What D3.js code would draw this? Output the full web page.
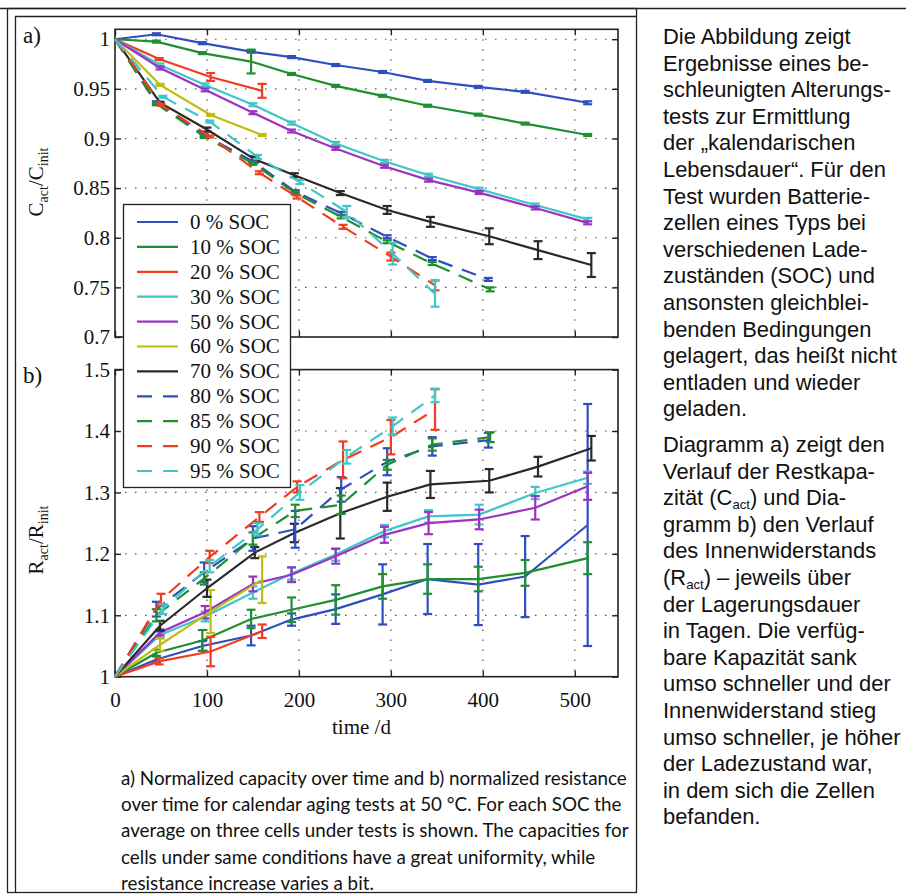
<!DOCTYPE html>
<html>
<head>
<meta charset="utf-8">
<script src="https://cdnjs.cloudflare.com/ajax/libs/d3/7.8.5/d3.min.js"></script>
<style>
	body { margin: 0; background: #fff; }
	svg text { fill: #111; }
</style>
</head>
<body>
<div id="chart"></div>
<script>

// series: state of charge
var socLabels = ['0 % SOC', '10 % SOC', '20 % SOC', '30 % SOC', '50 % SOC', '60 % SOC', '70 % SOC', '80 % SOC', '85 % SOC', '90 % SOC', '95 % SOC'];
var socColors = ['#2f4fbf', '#1f8f2f', '#f23c1f', '#3fc6c9', '#9b33c4', '#bdbd12', '#2a2a2a', '#2f4fbf', '#1f8f2f', '#f23c1f', '#3fc6c9'];
var socDashed = [false, false, false, false, false, false, false, true, true, true, true];

// storage time in days, per series
var days = [
	[0, 45, 95, 148, 192, 240, 291, 340, 395, 446, 514],
	[0, 45, 95, 148, 192, 240, 291, 340, 395, 446, 514],
	[0, 48, 104, 160],
	[0, 49, 98, 150, 192, 240, 293, 341, 396, 457, 514],
	[0, 49, 98, 150, 192, 240, 293, 341, 396, 457, 514],
	[0, 49, 104, 160],
	[0, 49, 100, 152, 195, 245, 296, 343, 407, 460, 518],
	[0, 45, 97, 150, 196, 246, 296, 345, 406],
	[0, 45, 97, 150, 196, 246, 296, 345, 408],
	[0, 50, 103, 157, 198, 248, 300, 348],
	[0, 52, 103, 155, 201, 252, 302, 348]
];

// a) C_act / C_init
var capacity = [
	[1, 1.005, 0.996, 0.9875, 0.982, 0.974, 0.967, 0.958, 0.952, 0.947, 0.936],
	[1, 0.9976, 0.986, 0.9775, 0.965, 0.953, 0.943, 0.933, 0.924, 0.915, 0.9035],
	[1, 0.980, 0.962, 0.948],
	[1, 0.974, 0.954, 0.934, 0.9155, 0.895, 0.877, 0.863, 0.849, 0.833, 0.8185],
	[1, 0.971, 0.949, 0.926, 0.9075, 0.890, 0.872, 0.858, 0.8455, 0.830, 0.815],
	[1, 0.954, 0.9237, 0.9035],
	[1, 0.936, 0.909, 0.879, 0.863, 0.845, 0.828, 0.816, 0.8015, 0.7875, 0.7725],
	[1, 0.936, 0.9035, 0.877, 0.8464, 0.8246, 0.801, 0.779, 0.758],
	[1, 0.935, 0.902, 0.875, 0.845, 0.821, 0.796, 0.774, 0.748],
	[1, 0.934, 0.902, 0.8655, 0.841, 0.811, 0.781, 0.752],
	[1, 0.942, 0.917, 0.8815, 0.856, 0.826, 0.784, 0.7435]
];
var capacityErr = [
	[0, 0.001, 0.001, 0.001, 0.001, 0.001, 0.001, 0.001, 0.001, 0.001, 0.0015],
	[0, 0.001, 0.001, 0.012, 0.001, 0.001, 0.001, 0.001, 0.001, 0.001, 0.001],
	[0, 0.001, 0.004, 0.007],
	[0, 0.0015, 0.0015, 0.0015, 0.0015, 0.0015, 0.0015, 0.0015, 0.0015, 0.0015, 0.0015],
	[0, 0.0015, 0.0015, 0.0015, 0.0015, 0.0015, 0.0015, 0.0015, 0.0015, 0.0015, 0.0015],
	[0, 0.001, 0.001, 0.001],
	[0, 0.001, 0.002, 0.003, 0.002, 0.002, 0.004, 0.005, 0.008, 0.009, 0.012],
	[0, 0.0015, 0.0015, 0.0015, 0.0015, 0.0015, 0.0015, 0.0015, 0.0015],
	[0, 0.0015, 0.0015, 0.0015, 0.0015, 0.0015, 0.0015, 0.0015, 0.002],
	[0, 0.001, 0.001, 0.0015, 0.0015, 0.002, 0.004, 0.005],
	[0, 0.001, 0.001, 0.002, 0.002, 0.006, 0.011, 0.013]
];

// b) R_act / R_init
var resistance = [
	[1, 1.028, 1.05, 1.067, 1.093, 1.110, 1.134, 1.159, 1.150, 1.163, 1.247],
	[1, 1.039, 1.059, 1.094, 1.109, 1.125, 1.147, 1.159, 1.159, 1.169, 1.193],
	[1, 1.025, 1.041, 1.074],
	[1, 1.068, 1.098, 1.137, 1.168, 1.199, 1.237, 1.261, 1.264, 1.299, 1.324],
	[1, 1.072, 1.105, 1.151, 1.166, 1.196, 1.231, 1.250, 1.256, 1.275, 1.310],
	[1, 1.052, 1.106, 1.158],
	[1, 1.083, 1.144, 1.202, 1.234, 1.266, 1.293, 1.313, 1.319, 1.342, 1.372],
	[1, 1.11, 1.17, 1.225, 1.24, 1.305, 1.35, 1.375, 1.385],
	[1, 1.10, 1.16, 1.225, 1.27, 1.28, 1.345, 1.378, 1.39],
	[1, 1.125, 1.195, 1.26, 1.309, 1.353, 1.39, 1.435],
	[1, 1.11, 1.18, 1.24, 1.30, 1.358, 1.408, 1.458]
];
var resistanceErr = [
	[0, 0.005, 0.008, 0.016, 0.01, 0.024, 0.049, 0.057, 0.066, 0.066, 0.197],
	[0, 0.005, 0.017, 0.015, 0.02, 0.024, 0.02, 0.024, 0.02, 0.021, 0.026],
	[0, 0.005, 0.024, 0.011],
	[0, 0.005, 0.008, 0.01, 0.01, 0.01, 0.01, 0.01, 0.016, 0.01, 0.01],
	[0, 0.005, 0.01, 0.012, 0.012, 0.012, 0.013, 0.018, 0.016, 0.019, 0.022],
	[0, 0.01, 0.035, 0.038],
	[0, 0.008, 0.014, 0.009, 0.015, 0.041, 0.023, 0.022, 0.019, 0.016, 0.02],
	[0, 0.012, 0.016, 0.02, 0.03, 0.02, 0.022, 0.015, 0.012],
	[0, 0.01, 0.01, 0.01, 0.01, 0.015, 0.008, 0.01, 0.008],
	[0, 0.01, 0.01, 0.008, 0.009, 0.03, 0.028, 0.033],
	[0, 0.008, 0.01, 0.01, 0.012, 0.011, 0.014, 0.011]
];

var timeTicks = [0, 100, 200, 300, 400, 500];
var capTicks = [0.7, 0.75, 0.8, 0.85, 0.9, 0.95, 1];
var resTicks = [1, 1.1, 1.2, 1.3, 1.4, 1.5];

var sideText = [
	['Die Abbildung zeigt', 'Ergebnisse eines be-', 'schleunigten Alterungs-', 'tests zur Ermittlung',
		'der „kalendarischen', 'Lebensdauer“. Für den', 'Test wurden Batterie-', 'zellen eines Typs bei',
		'verschiedenen Lade-', 'zuständen (SOC) und', 'ansonsten gleichblei-', 'benden Bedingungen',
		'gelagert, das heißt nicht', 'entladen und wieder', 'geladen.'],
	['Diagramm a) zeigt den', 'Verlauf der Restkapa-', 'zität (C_{act}) und Dia-', 'gramm b) den Verlauf',
		'des Innenwiderstands', '(R_{act}) – jeweils über', 'der Lagerungsdauer', 'in Tagen. Die verfüg-',
		'bare Kapazität sank', 'umso schneller und der', 'Innenwiderstand stieg', 'umso schneller, je höher',
		'der Ladezustand war,', 'in dem sich die Zellen', 'befanden.']
];

var captionLines = [
	'a) Normalized capacity over time and b) normalized resistance',
	'over time for calendar aging tests at 50 °C. For each SOC the',
	'average on three cells under tests is shown. The capacities for',
	'cells under same conditions have a great uniformity, while',
	'resistance increase varies a bit.'
];

///////////////////////////////////////////////////////////////////////////
/////////////////// setup /////////////////////////////////////////////////
///////////////////////////////////////////////////////////////////////////
var width = 906;
var height = 895;
var serif = '"Liberation Serif", "Times New Roman", serif';

var svg = d3.select('#chart')
	.append('svg')
	.attr('width', width).attr('height', height);

var x = d3.scaleLinear().domain([0, 547]).range([115, 618]);
var yCap = d3.scaleLinear().domain([0.7, 1.01]).range([337, 29.3]);
var yRes = d3.scaleLinear().domain([1, 1.5]).range([676.7, 369.6]);

// frames
svg.append('line').attr('x1', 0).attr('x2', width).attr('y1', 8.5).attr('y2', 8.5)
	.attr('stroke', '#222').attr('stroke-width', 1.3);
svg.append('rect').attr('x', 7.5).attr('y', 8.5).attr('width', 629).attr('height', 884)
	.attr('fill', 'none').attr('stroke', '#222').attr('stroke-width', 1.3);
svg.append('path').attr('d', 'M15.5,893 V16.5 H636')
	.attr('fill', 'none').attr('stroke', '#222').attr('stroke-width', 1.3);

///////////////////////////////////////////////////////////////////////////
/////////////////// panels ////////////////////////////////////////////////
///////////////////////////////////////////////////////////////////////////
drawPanel(yCap, capacity, capacityErr, capTicks, false);
drawPanel(yRes, resistance, resistanceErr, resTicks, true);

function drawPanel(y, values, errs, ticks, showTime) {
	var g = svg.append('g');
	var x0 = x.range()[0], x1 = x.range()[1];
	var yTop = y.range()[1], yBot = y.range()[0];

	// dotted grid
	g.selectAll('.hgrid').data(ticks.filter(function(t) { return y(t) > yTop + 1 && y(t) < yBot - 1; }))
		.enter().append('line')
		.attr('x1', x0).attr('x2', x1)
		.attr('y1', function(d) { return y(d); }).attr('y2', function(d) { return y(d); })
		.attr('stroke', '#555').attr('stroke-width', 1.2).attr('stroke-dasharray', '1.5,8.5');
	g.selectAll('.vgrid').data(timeTicks.slice(1))
		.enter().append('line')
		.attr('y1', yTop).attr('y2', yBot)
		.attr('x1', function(d) { return x(d); }).attr('x2', function(d) { return x(d); })
		.attr('stroke', '#555').attr('stroke-width', 1.2).attr('stroke-dasharray', '1.5,8.5');

	// axes with inward ticks
	g.append('g').attr('transform', 'translate(' + x0 + ',0)')
		.call(d3.axisLeft(y).tickValues(ticks).tickSizeInner(-6).tickSizeOuter(0).tickPadding(5)
			.tickFormat(function(d) { return String(d); }));
	g.append('g').attr('transform', 'translate(' + x1 + ',0)')
		.call(d3.axisRight(y).tickValues(ticks).tickSizeInner(-6).tickSizeOuter(0).tickFormat(''));
	g.append('g').attr('transform', 'translate(0,' + yTop + ')')
		.call(d3.axisTop(x).tickValues(timeTicks).tickSizeInner(-6).tickSizeOuter(0).tickFormat(''));
	g.append('g').attr('transform', 'translate(0,' + yBot + ')')
		.call(d3.axisBottom(x).tickValues(timeTicks).tickSizeInner(-6).tickSizeOuter(0).tickPadding(15)
			.tickFormat(showTime ? d3.format('d') : ''));
	g.selectAll('.domain').remove();
	g.selectAll('.tick line').attr('stroke', '#222').attr('stroke-width', 1.4);
	g.selectAll('.tick text').style('font-family', serif).style('font-size', '21px').attr('fill', '#111');

	g.append('rect')
		.attr('x', x0).attr('y', yTop).attr('width', x1 - x0).attr('height', yBot - yTop)
		.attr('fill', 'none').attr('stroke', '#222').attr('stroke-width', 1.6);

	// series
	var line = d3.line()
		.x(function(d) { return x(d[0]); })
		.y(function(d) { return y(d[1]); });

	socLabels.forEach(function(label, i) {
		var pts = d3.zip(days[i], values[i], errs[i]);
		var s = g.append('g').attr('stroke', socColors[i]).attr('fill', 'none').attr('stroke-width', 2.2);
		s.append('path')
			.attr('d', line(pts))
			.attr('stroke-dasharray', socDashed[i] ? '15,10' : null);
		var bars = s.selectAll('.err').data(pts.filter(function(d) { return d[2] > 0; }))
			.enter().append('g');
		bars.append('line')
			.attr('x1', function(d) { return x(d[0]); }).attr('x2', function(d) { return x(d[0]); })
			.attr('y1', function(d) { return y(d[1] - d[2]); }).attr('y2', function(d) { return y(d[1] + d[2]); });
		[-1, 1].forEach(function(sign) {
			bars.append('line')
				.attr('x1', function(d) { return x(d[0]) - 4.5; }).attr('x2', function(d) { return x(d[0]) + 4.5; })
				.attr('y1', function(d) { return y(d[1] + sign * d[2]); }).attr('y2', function(d) { return y(d[1] + sign * d[2]); });
		});
	});
}

// panel letters
svg.append('text').attr('x', 23).attr('y', 43).text('a)')
	.style('font-family', serif).style('font-size', '23px');
svg.append('text').attr('x', 23).attr('y', 383).text('b)')
	.style('font-family', serif).style('font-size', '23px');

// axis titles
axisTitle('C', 182);
axisTitle('R', 540);

function axisTitle(sym, cy) {
	var t = svg.append('text')
		.attr('transform', 'translate(43,' + cy + ') rotate(-90)')
		.attr('text-anchor', 'middle')
		.style('font-family', serif).style('font-size', '21px');
	t.append('tspan').text(sym);
	t.append('tspan').attr('dy', 5).style('font-size', '14px').text('act');
	t.append('tspan').attr('dy', -5).text('/' + sym);
	t.append('tspan').attr('dy', 5).style('font-size', '14px').text('init');
}

svg.append('text')
	.attr('x', x(268)).attr('y', 734)
	.attr('text-anchor', 'middle')
	.style('font-family', serif).style('font-size', '21px')
	.text('time /d');

///////////////////////////////////////////////////////////////////////////
/////////////////// legend ////////////////////////////////////////////////
///////////////////////////////////////////////////////////////////////////
var legend = svg.append('g');
legend.append('rect')
	.attr('x', 123.5).attr('y', 204.5).attr('width', 167).attr('height', 283)
	.attr('fill', '#fff').attr('stroke', '#222').attr('stroke-width', 1.3);

var entries = legend.selectAll('.entry').data(socLabels)
	.enter().append('g')
	.attr('transform', function(d, i) { return 'translate(0,' + (222 + i * 24.9) + ')'; });
entries.append('line')
	.attr('x1', 137).attr('x2', 178)
	.attr('stroke', function(d, i) { return socColors[i]; })
	.attr('stroke-width', 2.2)
	.attr('stroke-dasharray', function(d, i) { return socDashed[i] ? '15,11' : null; });
entries.append('text')
	.attr('x', 190).attr('dy', '0.33em')
	.style('font-family', serif).style('font-size', '21px')
	.text(function(d) { return d; });

///////////////////////////////////////////////////////////////////////////
/////////////////// caption and side text /////////////////////////////////
///////////////////////////////////////////////////////////////////////////
var cap = svg.append('g')
	.style('font-family', 'Lato, "Open Sans", sans-serif').style('font-size', '19px');
var capText = cap.selectAll('text').data(captionLines)
	.enter().append('text')
	.attr('x', 121)
	.attr('y', function(d, i) { return 785 + i * 26.2; })
	.attr('fill', '#1a1a1a')
	.text(function(d) { return d; });
// fit first line to its width in the picture
var capScale = 506 / capText.node().getComputedTextLength();
cap.style('font-size', (19 * capScale) + 'px');

var side = svg.append('g')
	.style('font-family', '"Liberation Sans", Arial, sans-serif')
	.style('font-size', '20px');
var sideRows = [];
sideText.forEach(function(par, p) {
	par.forEach(function(row, i) {
		sideRows.push({text: row, y: (p === 0 ? 44 : 452) + i * 26.6});
	});
});
var sideNodes = side.selectAll('text').data(sideRows)
	.enter().append('text')
	.attr('x', 663)
	.attr('y', function(d) { return d.y; })
	.attr('fill', '#222')
	.each(function(d) {
		var el = d3.select(this);
		var shift = 0;
		d.text.split(/(_\{[^}]*\})/).forEach(function(part) {
			if (!part) return;
			if (part.indexOf('_{') === 0) {
				el.append('tspan').attr('dy', 4).style('font-size', '0.6em').text(part.slice(2, -1));
				shift = -4;
			} else {
				el.append('tspan').attr('dy', shift || null).text(part);
				shift = 0;
			}
		});
	});
var refRow = sideNodes.filter(function(d) { return d.text === 'gelagert, das heißt nicht'; }).node();
var sideScale = 234 / refRow.getComputedTextLength();
side.style('font-size', (20 * sideScale) + 'px');

</script>
</body>
</html>
